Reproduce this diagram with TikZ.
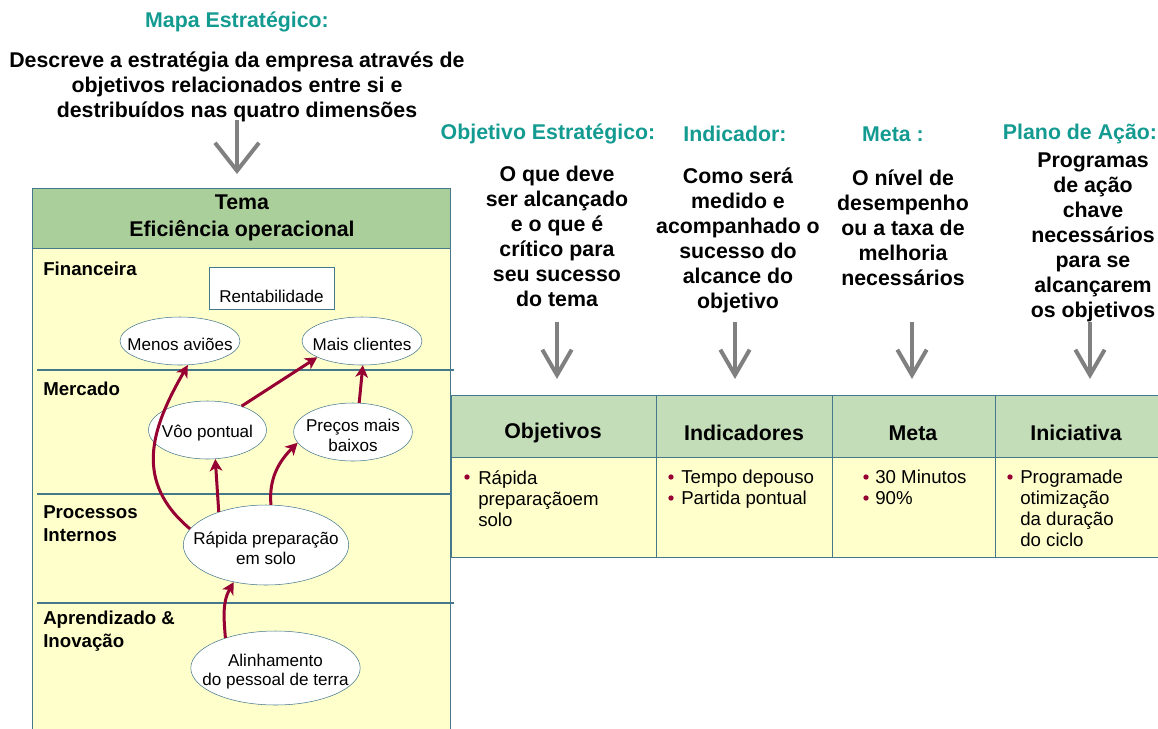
\documentclass[tikz,border=0pt]{standalone}
\usepackage{fontspec}
\setmainfont{Liberation Sans}
\usepackage{xcolor}
\usetikzlibrary{shapes.geometric,arrows.meta}

\definecolor{headteal}{RGB}{20,155,145}
\definecolor{framegray}{RGB}{70,120,140}
\definecolor{themegreen}{RGB}{171,207,155}
\definecolor{tablegreen}{RGB}{196,221,185}
\definecolor{paleyellow}{RGB}{255,255,204}
\definecolor{linkred}{RGB}{150,0,50}
\definecolor{guidegray}{RGB}{128,128,128}

\tikzset{
    goaltext/.style={font=\fontsize{12.8}{14.5}\selectfont, align=center, inner sep=0pt, yshift=-2.5pt},
    goal/.style={ellipse, draw=framegray, fill=white, inner sep=0pt,
        label={[goaltext]center:#1}},
    link/.style={linkred, line width=2.25pt, -{Stealth[length=9pt,width=9.5pt,inset=2.5pt]}},
    guide/.style={guidegray, line width=3pt, -{Straight Barb[length=19pt,width=22pt]}},
    bigguide/.style={guidegray, line width=3pt, -{Straight Barb[length=21pt,width=33pt]}},
    bigtext/.style={font=\fontsize{16}{18.75}\selectfont\bfseries, align=center, inner sep=0pt},
    tealtext/.style={font=\fontsize{16}{18.75}\selectfont\bfseries, text=headteal, inner sep=0pt},
    rowlabel/.style={font=\fontsize{14}{17.25}\selectfont\bfseries, align=left, anchor=west, inner sep=0pt},
    colhead/.style={font=\fontsize{16}{18.75}\selectfont\bfseries, inner sep=0pt},
    item/.style={font=\fontsize{14}{15.75}\selectfont, align=left, anchor=north west, inner sep=0pt},
    dot/.style={circle, fill=linkred, inner sep=0pt, minimum size=4pt}
}

\begin{document}
\begin{tikzpicture}[x=0.75pt,y=-0.75pt]
    \useasboundingbox (0,0) rectangle (1158,729);

    % Title and description of the strategic map
    \node[tealtext] (mapa) at (237,22) {Mapa Estratégico:};
    \node[bigtext] (descreve) at (237,87) {Descreve a estratégia da empresa através de\\
        objetivos relacionados entre si e\\destribuídos nas quatro dimensões};
    \coordinate (mapatop) at (237,120);
    \coordinate (mapatip) at (237,174);
    \draw[bigguide] (mapatop) -- (mapatip);

    % Left box with the theme
    \fill[paleyellow] (32,248) rectangle (450,729);
    \draw[framegray, fill=themegreen] (32,188) rectangle (450,248);
    \draw[framegray] (32,248) -- (32,729);
    \draw[framegray] (450,248) -- (450,729);
    \node[bigtext] (tema) at (242,218) {Tema\\[1.5pt]Eficiência operacional};

    % Perspective separators
    \foreach \y in {370,494,603} {
        \draw[framegray, line width=0.8pt] (37,\y) -- (454,\y);
    }

    % Perspective labels
    \node[rowlabel] (financeira) at (43,269) {Financeira};
    \node[rowlabel] (mercado) at (43,389) {Mercado};
    \node[rowlabel] (processos) at (43,523.5) {Processos\\Internos};
    \node[rowlabel] (aprendizado) at (43,631.5) {Aprendizado \&\\Inovação};

    % Objectives
    \node[draw=framegray, fill=white, minimum width=94pt, minimum height=31.5pt,
        font=\fontsize{12.8}{14.5}\selectfont, text depth=0pt, anchor=south,
        inner sep=0pt, text height=21pt] (rentab) at (271.5,310) {Rentabilidade};
    \node[goal={Menos aviões}, minimum width=90pt, minimum height=36pt] (menos) at (180,341) {};
    \node[goal={Mais clientes}, minimum width=90pt, minimum height=36pt] (mais) at (362,341) {};
    \node[goal={Vôo pontual}, minimum width=88.5pt, minimum height=43.5pt] (voo) at (207.5,430) {};
    \node[goal={Preços mais\\baixos}, minimum width=89pt, minimum height=43.5pt] (precos) at (353,432) {};
    \node[goal={Rápida preparação\\em solo}, minimum width=124pt, minimum height=60pt] (rapida) at (266,545) {};
    \node[goal={Alinhamento\\do pessoal de terra}, minimum width=127pt, minimum height=55.5pt] (alinha) at (275.5,668) {};

    % Cause and effect links
    \draw[link] (rapida.168) to[out=140,in=240,looseness=1.15] (menos.-72);
    \draw[link] (voo.35) -- (mais.200);
    \draw[link] (precos.78) -- (mais.-88);
    \draw[link] (rapida.145) -- (voo.-75);
    \draw[link] (rapida.83) to[out=95,in=225] (precos.191);
    \draw[link] (alinha.149) to[out=95,in=240] (rapida.229);

    % Column headings on the right
    \node[tealtext] (objhead) at (548,134) {Objetivo Estratégico:};
    \node[tealtext] (indhead) at (735,134) {Indicador:};
    \node[tealtext] (metahead) at (893,134) {Meta :};
    \node[tealtext] (planhead) at (1080,134) {Plano de Ação:};

    \node[bigtext] (objdesc) at (557,236) {O que deve\\ser alcançado\\e o que é\\crítico para\\seu sucesso\\do tema};
    \node[bigtext] (inddesc) at (738,240.5) {Como será\\medido e\\acompanhado o\\sucesso do\\alcance do\\objetivo};
    \node[bigtext] (metadesc) at (903,228) {O nível de\\desempenho\\ou a taxa de\\melhoria\\necessários};
    \node[bigtext] (plandesc) at (1093,237) {Programas\\de ação\\chave\\necessários\\para se\\alcançarem\\os objetivos};

    % Arrows down to the table
    \foreach \x/\n in {557/obj,735/ind,912/meta,1090/plan} {
        \coordinate (\n top) at (\x,322);
        \coordinate (\n tip) at (\x,379);
        \draw[guide] (\n top) -- (\n tip);
    }

    % Table
    \fill[tablegreen] (451,395) rectangle (1158,457);
    \fill[paleyellow] (451,457) rectangle (1158,557);
    \foreach \y in {395,457,557} {
        \draw[framegray] (451,\y) -- (1158,\y);
    }
    \foreach \x in {451,656,832,995} {
        \draw[framegray] (\x,395) -- (\x,557);
    }
    \node[colhead] (objetivos) at (553,433) {Objetivos};
    \node[colhead] (indicadores) at (744,433) {Indicadores};
    \node[colhead] (meta) at (913,433) {Meta};
    \node[colhead] (iniciativa) at (1076,433) {Iniciativa};

    % Table entries
    \node[dot] (b1) at (467,477) {};
    \node[item] (rapidaitem) at (478,470) {Rápida\\preparaçãoem\\solo};
    \node[dot] (b2) at (671,477) {};
    \node[dot] (b3) at (671,498) {};
    \node[item] (tempoitem) at (681,470) {Tempo depouso\\Partida pontual};
    \node[dot] (b4) at (866,477) {};
    \node[dot] (b5) at (866,498) {};
    \node[item] (minitem) at (875,470) {30 Minutos\\90\%};
    \node[dot] (b6) at (1010,477) {};
    \node[item] (progitem) at (1020,470) {Programade\\otimização\\da duração\\do ciclo};

\end{tikzpicture}
\end{document}
